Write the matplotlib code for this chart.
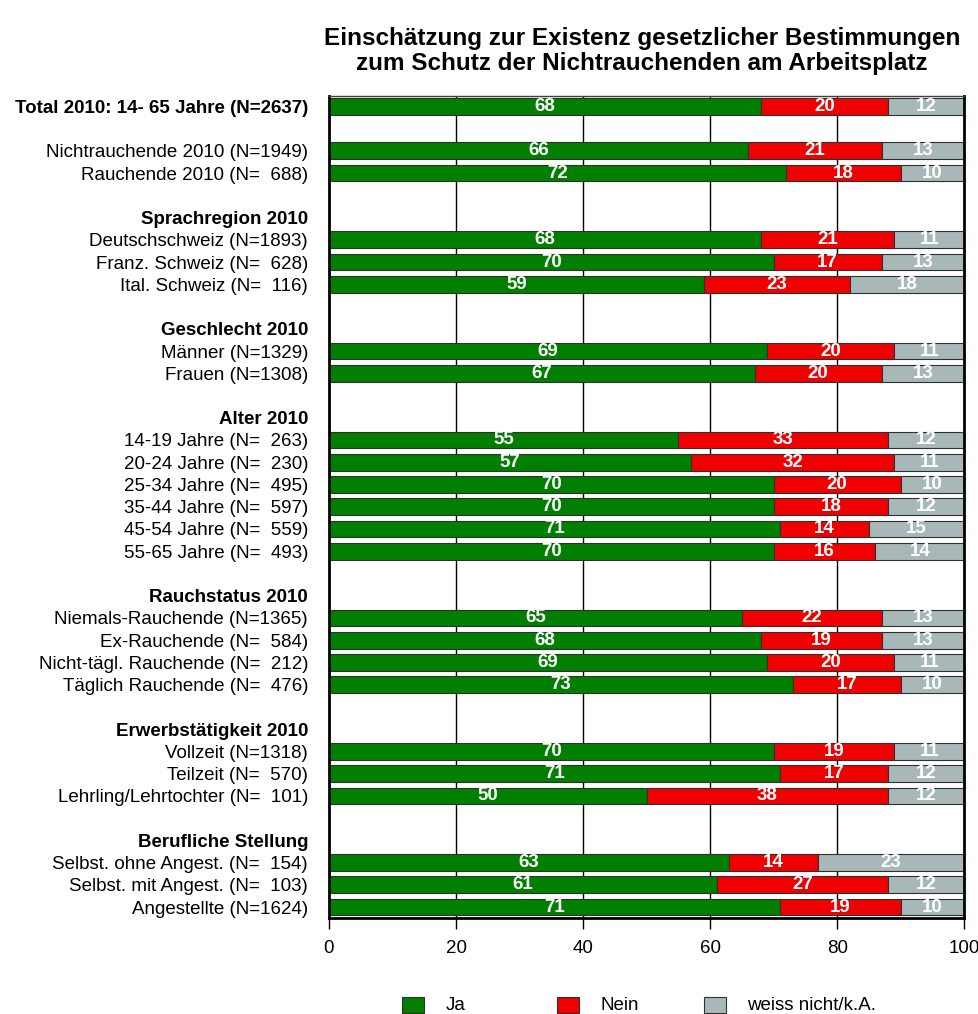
import matplotlib
matplotlib.use("Agg")
import matplotlib.pyplot as plt
from matplotlib.patches import Rectangle

plt.rcParams['font.family'] = ['Liberation Sans', 'DejaVu Sans']

labels = [
    "Total 2010: 14- 65 Jahre (N=2637)", "",
    "Nichtrauchende 2010 (N=1949)", "Rauchende 2010 (N=  688)", "",
    "Sprachregion 2010", "Deutschschweiz (N=1893)", "Franz. Schweiz (N=  628)", "Ital. Schweiz (N=  116)", "",
    "Geschlecht 2010", "Männer (N=1329)", "Frauen (N=1308)", "",
    "Alter 2010", "14-19 Jahre (N=  263)", "20-24 Jahre (N=  230)", "25-34 Jahre (N=  495)",
    "35-44 Jahre (N=  597)", "45-54 Jahre (N=  559)", "55-65 Jahre (N=  493)", "",
    "Rauchstatus 2010", "Niemals-Rauchende (N=1365)", "Ex-Rauchende (N=  584)",
    "Nicht-tägl. Rauchende (N=  212)", "Täglich Rauchende (N=  476)", "",
    "Erwerbstätigkeit 2010", "Vollzeit (N=1318)", "Teilzeit (N=  570)", "Lehrling/Lehrtochter (N=  101)", "",
    "Berufliche Stellung", "Selbst. ohne Angest. (N=  154)", "Selbst. mit Angest. (N=  103)", "Angestellte (N=1624)",
]
bold_labels = {"Total 2010: 14- 65 Jahre (N=2637)", "Sprachregion 2010", "Geschlecht 2010",
               "Alter 2010", "Rauchstatus 2010", "Erwerbstätigkeit 2010", "Berufliche Stellung"}

# None = no bar
ja = [68, None, 66, 72, None, None, 68, 70, 59, None, None, 69, 67, None, None,
      55, 57, 70, 70, 71, 70, None, None, 65, 68, 69, 73, None, None, 70, 71, 50, None, None, 63, 61, 71]
nein = [20, None, 21, 18, None, None, 21, 17, 23, None, None, 20, 20, None, None,
        33, 32, 20, 18, 14, 16, None, None, 22, 19, 20, 17, None, None, 19, 17, 38, None, None, 14, 27, 19]
wn = [12, None, 13, 10, None, None, 11, 13, 18, None, None, 11, 13, None, None,
      12, 11, 10, 12, 15, 14, None, None, 13, 13, 11, 10, None, None, 11, 12, 12, None, None, 23, 12, 10]

series_names = ["Ja", "Nein", "weiss nicht/k.A."]
colors = ["#007f00", "#f00000", "#a8b8b8"]
xticks = [0, 20, 40, 60, 80, 100]

fig = plt.figure(figsize=(9.79, 10.14), dpi=100)
ax = fig.add_axes([0.336, 0.0947, 0.985 - 0.336, 0.905 - 0.0947])

n = len(labels)
ax.set_xlim(0, 100)
ax.set_ylim(n - 1 + 0.49, -0.45)

for x in [20, 40, 60, 80]:
    ax.axvline(x, color="black", lw=1, zorder=0)

h = 0.75
for i in range(n):
    if ja[i] is None:
        continue
    left = 0
    vals = [ja[i], nein[i], wn[i]]
    for k, v in enumerate(vals):
        w = v if k < 2 else 100 - left
        ax.barh(i, w, left=left, height=h, color=colors[k], edgecolor="#303030", lw=0.8, zorder=2)
        ax.text(left + w / 2, i, str(v), ha="center", va="center", color="white",
                fontsize=13.5, fontweight="bold", zorder=3)
        left += w

ax.set_yticks(range(n))
ax.set_yticklabels(labels, fontsize=13.5)
for t in ax.get_yticklabels():
    if t.get_text() in bold_labels:
        t.set_fontweight("bold")
ax.tick_params(axis="y", length=0, pad=15)
ax.set_xticks(xticks)
ax.set_xticklabels([str(x) for x in xticks], fontsize=13.5)
ax.tick_params(axis="x", length=8, width=1, pad=8)

for s in ["left", "right", "bottom"]:
    ax.spines[s].set_linewidth(2)
ax.spines["top"].set_linewidth(1)
ax.spines["top"].set_color("#404040")

fig.text(0.656, 0.962, "Einschätzung zur Existenz gesetzlicher Bestimmungen", ha="center", va="center",
         fontsize=17.5, fontweight="bold")
fig.text(0.656, 0.937, "zum Schutz der Nichtrauchenden am Arbeitsplatz", ha="center", va="center",
         fontsize=17.5, fontweight="bold")

leg_x = [413, 568, 715]
for k in range(3):
    x0 = leg_x[k] / 979
    y0 = 1 - 1005 / 1014
    fig.patches.append(Rectangle((x0 - 0.0115, y0 - 0.0075), 0.023, 0.015, transform=fig.transFigure,
                                 facecolor=colors[k], edgecolor="#303030", lw=0.8))
    fig.text(x0 + 0.033, y0, series_names[k], ha="left", va="center", fontsize=13.5)

fig.savefig("out.png", dpi=100)
